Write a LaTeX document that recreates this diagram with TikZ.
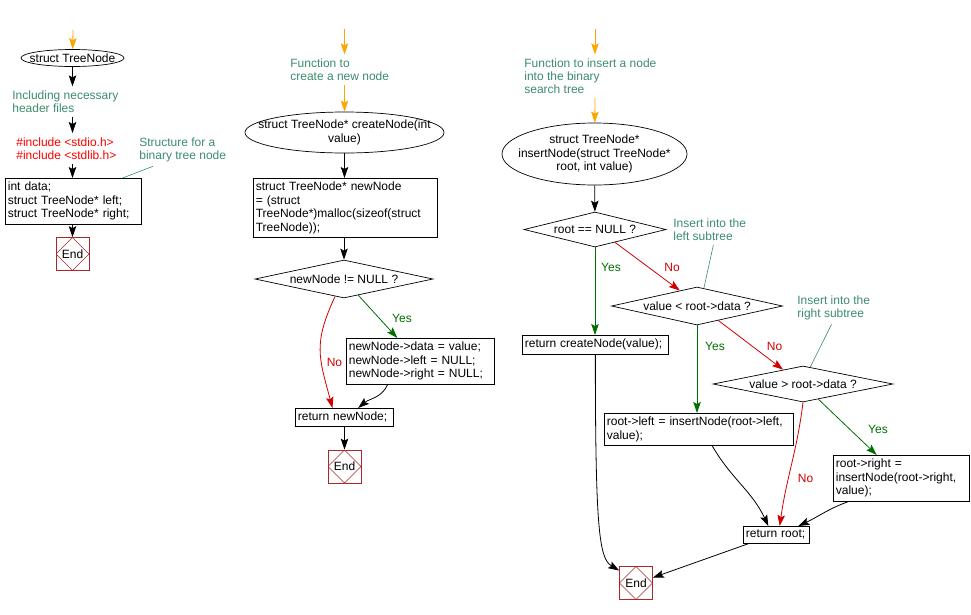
\documentclass[tikz,border=0pt]{standalone}
\usepackage{fontspec}
\setmainfont{Liberation Sans}
\usetikzlibrary{shapes,shapes.geometric,calc,arrows.meta}
\definecolor{notegreen}{RGB}{60,140,108}
\definecolor{codered}{RGB}{255,0,0}
\definecolor{yesgreen}{RGB}{0,110,0}
\definecolor{nored}{RGB}{210,0,0}
\definecolor{endred}{RGB}{170,40,40}
\definecolor{startorange}{RGB}{255,165,0}
\tikzset{
  flownode/.style = {font=\fontsize{12}{13.5}\selectfont, line width=0.7pt},
  fl_box/.style = {flownode, rectangle, draw=black, align=left, anchor=north west, inner xsep=2.5pt, inner ysep=0pt},
  fl_ell/.style = {flownode, ellipse, draw=black, align=center, inner xsep=-40pt, inner ysep=-20pt},
  fl_dia/.style = {flownode, diamond, draw=black, inner sep=0pt, aspect=4.5},
  fl_end/.style = {flownode, rectangle, draw=endred, minimum size=33pt, inner sep=0pt,
    path picture={\draw[endred, line width=0.6pt] (path picture bounding box.north) -- (path picture bounding box.east)
      -- (path picture bounding box.south) -- (path picture bounding box.west) -- cycle;}},
  fl_note/.style = {flownode, font=\fontsize{12}{13}\selectfont, text=notegreen, align=left, anchor=north west, inner xsep=0pt, inner ysep=4pt},
  fl_code/.style = {fl_note, text=codered},
  fl_lbl/.style = {flownode, inner sep=1pt},
  flow/.style = {line width=0.8pt, -{Stealth[length=11pt,width=7.5pt,inset=2pt]}},
  flow_start/.style = {flow, draw=startorange},
  flow_yes/.style = {flow, draw=yesgreen},
  flow_no/.style = {flow, draw=nored},
  note_line/.style = {draw=notegreen, line width=0.6pt}
}

\begin{document}
\begin{tikzpicture}[x=1pt, y=1pt]
	\useasboundingbox (0,0) rectangle (971,-614);

	% struct TreeNode
	\coordinate (s1) at (73,-30);
	\node [fl_ell, minimum width=103pt, minimum height=17pt] (eTree) at (72.5,-58) {struct TreeNode};
	\node [fl_note] (nInclude) at (12,-86.4) {Including necessary\\header files};
	\node [fl_code] (nCode) at (16,-133) {\#include <stdio.h>\\\#include <stdlib.h>};
	\node [fl_note] (nStruct) at (139,-133.4) {Structure for a\\binary tree node};
	\node [fl_box, text width=131pt, minimum height=46pt] (bDecl) at (5,-178) {int data;\\struct TreeNode* left;\\struct TreeNode* right;};
	\node [fl_end] (end1) at (72.5,-254) {End};

	\draw [flow_start] (s1) -- (eTree);
	\draw [flow] (eTree) -- (eTree |- nInclude.north);
	\draw [flow] (eTree |- nInclude.south) -- (eTree |- nCode.north);
	\draw [flow] (eTree |- nCode.south) -- (bDecl.north -| eTree);
	\draw [flow] (bDecl.south -| eTree) -- (end1);
	\draw [note_line] ($(nStruct.south west)!0.16!(nStruct.south east)$) -- ($(bDecl.north west)!0.86!(bDecl.north east)$);

	% createNode
	\coordinate (s2) at (344.5,-29);
	\node [fl_note] (nCreate) at (290,-54.4) {Function to\\create a new node};
	\node [fl_ell, minimum width=199pt, minimum height=41pt] (eCreate) at (344.5,-132.5) {struct TreeNode* createNode(int\\value)};
	\node [fl_box, text width=179pt, minimum height=59pt] (bNew) at (253,-178) {struct TreeNode* newNode\\= (struct\\TreeNode*)malloc(sizeof(struct\\TreeNode));};
	\node [fl_dia, minimum width=178pt, minimum height=38pt] (dNew) at (344,-279) {newNode != NULL ?};
	\node [fl_box, text width=143pt, minimum height=46pt] (bSet) at (346,-338) {newNode->data = value;\\newNode->left = NULL;\\newNode->right = NULL;};
	\node [fl_box, text width=93pt, minimum height=18pt] (bRetNew) at (295,-408) {return newNode;};
	\node [fl_end] (end2) at (344.5,-466.5) {End};
	\node [fl_lbl, text=yesgreen] (lYesNew) at (402,-318) {Yes};
	\node [fl_lbl, text=nored] (lNoNew) at (334.5,-362) {No};

	\draw [flow_start] (s2) -- (s2 |- nCreate.north);
	\draw [flow_start] (nCreate.south -| s2) -- (eCreate);
	\draw [flow] (eCreate) -- (bNew.north -| eCreate);
	\draw [flow] (bNew.south -| dNew) -- (dNew.north);
	\draw [flow_yes] ($(dNew.south)!0.16!(dNew.east)$) -- ($(bSet.north west)!0.345!(bSet.north east)$);
	\draw [flow_no] ($(dNew.south)!0.1!(dNew.west)$) to[out=-115, in=105, looseness=1.2] ($(bRetNew.north west)!0.38!(bRetNew.north east)$);
	\draw [flow] ($(bSet.south west)!0.28!(bSet.south east)$) to[out=-115, in=40] ($(bRetNew.north west)!0.64!(bRetNew.north east)$);
	\draw [flow] (bRetNew.south -| end2) -- (end2);

	% insertNode
	\coordinate (s3) at (595,-29);
	\node [fl_note] (nInsert) at (524,-54.4) {Function to insert a node\\into the binary\\search tree};
	\node [fl_ell, minimum width=185pt, minimum height=62pt] (eInsert) at (594.5,-154) {struct TreeNode*\\insertNode(struct TreeNode*\\root, int value)};
	\node [fl_dia, minimum width=142pt, minimum height=35pt] (dRoot) at (595,-229.5) {root == NULL ?};
	\node [fl_note] (nLeft) at (673,-214.4) {Insert into the\\left subtree};
	\node [fl_box, text width=141pt, minimum height=19pt] (bRetCreate) at (522,-335) {return createNode(value);};
	\node [fl_dia, minimum width=171pt, minimum height=38pt] (dLess) at (697,-306) {value < root->data ?};
	\node [fl_note] (nRight) at (797,-291.4) {Insert into the\\right subtree};
	\node [fl_dia, minimum width=180pt, minimum height=36pt] (dMore) at (803,-384) {value > root->data ?};
	\node [fl_box, text width=184pt, minimum height=32pt] (bLeft) at (604,-413) {root->left = insertNode(root->left,\\value);};
	\node [fl_box, text width=131pt, minimum height=46pt] (bRight) at (833,-455) {root->right =\\insertNode(root->right,\\value);};
	\node [fl_box, text width=61pt, minimum height=17pt] (bRetRoot) at (743,-526) {return root;};
	\node [fl_end] (end3) at (636,-583) {End};
	\node [fl_lbl, text=yesgreen] (lYesRoot) at (611,-267) {Yes};
	\node [fl_lbl, text=nored] (lNoRoot) at (672,-267) {No};
	\node [fl_lbl, text=yesgreen] (lYesLess) at (715,-346) {Yes};
	\node [fl_lbl, text=nored] (lNoLess) at (774.5,-346) {No};
	\node [fl_lbl, text=yesgreen] (lYesMore) at (878,-429) {Yes};
	\node [fl_lbl, text=nored] (lNoMore) at (805.5,-478) {No};

	\draw [flow_start] (s3) -- (s3 |- nInsert.north);
	\draw [flow_start] (nInsert.south -| s3) -- (eInsert);
	\draw [flow] (eInsert) -- (dRoot);
	\draw [flow_yes] (dRoot) -- (dRoot |- bRetCreate.north);
	\draw [flow_no] ($(dRoot.south)!0.28!(dRoot.east)$) -- ($(dLess.north)!0.2!(dLess.west)$);
	\draw [note_line] ($(nLeft.south west)!0.55!(nLeft.south east)$) -- ($(dLess.north)!0.08!(dLess.east)$);
	\draw [flow_yes] (dLess) -- (dLess |- bLeft.north);
	\draw [flow_no] ($(dLess.south)!0.25!(dLess.east)$) -- ($(dMore.north)!0.22!(dMore.west)$);
	\draw [note_line] ($(nRight.south west)!0.47!(nRight.south east)$) -- ($(dMore.north)!0.08!(dMore.east)$);
	\draw [flow_yes] ($(dMore.south)!0.17!(dMore.east)$) -- ($(bRight.north west)!0.32!(bRight.north east)$);
	\draw [flow_no] (dMore.south) to[out=-97, in=82] ($(bRetRoot.north west)!0.55!(bRetRoot.north east)$);
	\draw [flow] ($(bLeft.south west)!0.57!(bLeft.south east)$) to[out=-60, in=115] ($(bRetRoot.north west)!0.38!(bRetRoot.north east)$);
	\draw [flow] ($(bRight.south west)!0.11!(bRight.south east)$) to[out=-160, in=25] ($(bRetRoot.north west)!0.83!(bRetRoot.north east)$);
	\draw [flow] (bRetCreate.south) .. controls +(0,-175) and +(-20,12) .. ($(end3.north west)!0.13!(end3.south west)$);
	\draw [flow] ($(bRetRoot.south west)!0.08!(bRetRoot.south east)$) -- ($(end3.north east)!0.34!(end3.south east)$);
\end{tikzpicture}
\end{document}
